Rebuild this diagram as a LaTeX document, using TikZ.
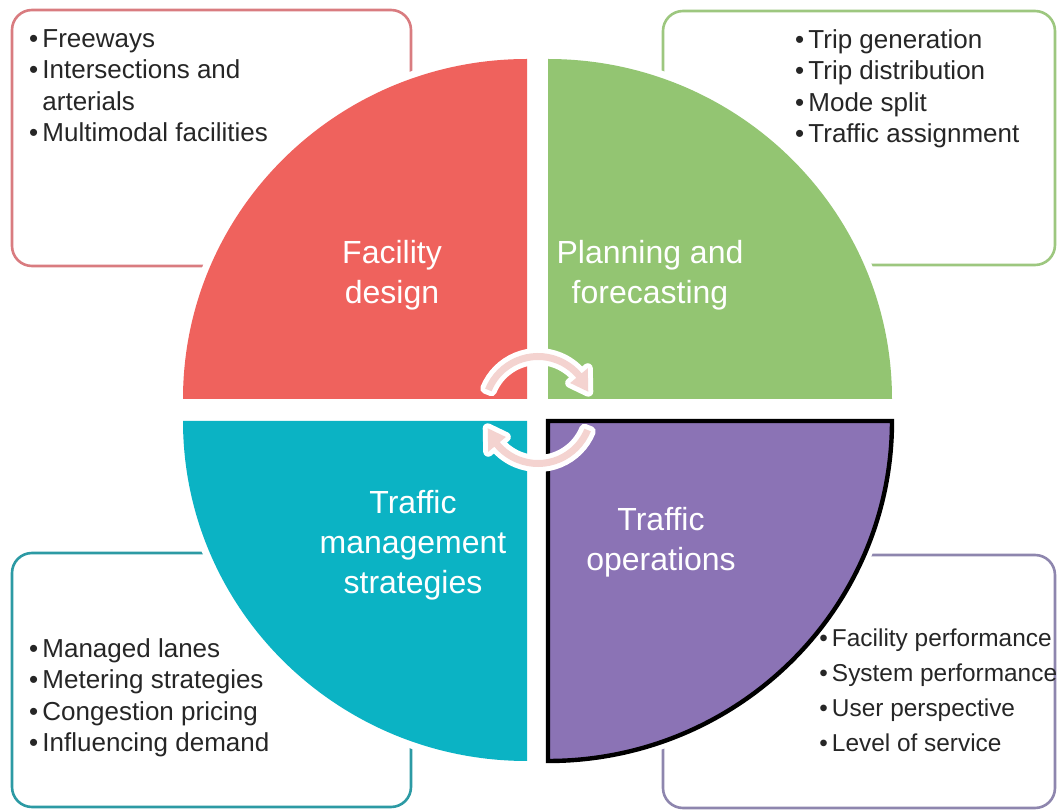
\documentclass[tikz,border=0pt]{standalone}
\usepackage{fontspec}
\setmainfont{Liberation Sans}
\usetikzlibrary{calc}
\definecolor{quadred}{RGB}{239,98,93}
\definecolor{quadgreen}{RGB}{147,197,114}
\definecolor{quadteal}{RGB}{11,179,196}
\definecolor{quadpurple}{RGB}{139,115,181}
\definecolor{boxred}{RGB}{217,124,128}
\definecolor{boxgreen}{RGB}{157,199,127}
\definecolor{boxteal}{RGB}{44,154,164}
\definecolor{boxpurple}{RGB}{142,134,174}
\definecolor{arrowpink}{RGB}{244,211,208}
\definecolor{listgray}{RGB}{38,38,38}
\begin{document}
\begin{tikzpicture}[x=0.5pt, y=-0.5pt,
  listbox/.style={rounded corners=10pt, line width=1.3pt, fill=white},
  quadrant/.style={preaction={draw=white, line width=7pt}},
  bullets/.style={inner sep=0pt, anchor=north west, align=left, text=listgray, font=\fontsize{13}{15.75}\selectfont},
  label/.style={inner sep=0pt, align=center, text=white, font=\fontsize{16}{20}\selectfont},
  turn/.style={fill=arrowpink, preaction={draw=white, line width=5pt, line join=round}}]
  \useasboundingbox (0,0) rectangle (1057,812);
  \def\qrx{172pt}
  \def\qry{170pt}

  % Outer list boxes
  \draw[listbox, draw=boxred] (12,10) rectangle (411,266);
  \draw[listbox, draw=boxgreen] (663,11) rectangle (1055,265);
  \draw[listbox, draw=boxteal] (12,553) rectangle (411,807);
  \draw[listbox, draw=boxpurple] (663,555) rectangle (1055,808);

  % Four quadrants of the circle
  \path[quadrant, fill=quadred] (527,399) -- (183,399) arc[start angle=180, end angle=90, x radius=\qrx, y radius=\qry] -- cycle;
  \path[quadrant, fill=quadgreen] (548,399) -- (548,59) arc[start angle=90, end angle=0, x radius=\qrx, y radius=\qry] -- cycle;
  \path[quadrant, fill=quadteal] (527,421) -- (183,421) arc[start angle=180, end angle=270, x radius=\qrx, y radius=\qry] -- cycle;
  \path[quadrant, fill=quadpurple, draw=black, line width=2.2pt] (548,421) -- (892,421) arc[start angle=0, end angle=-90, x radius=\qrx, y radius=\qry] -- cycle;

  % Quadrant titles
  \node[label] (design) at (392,275) {Facility\\design};
  \node[label] (planning) at (650,275) {Planning and\\forecasting};
  \node[label] (management) at (413,545) {Traffic\\management\\strategies};
  \node[label] (operations) at (661,542) {Traffic\\operations};

  % Cycle arrows in the middle
  \coordinate (hub) at (538,410);
  \path[turn] ($(hub)+(158:28.5pt)$) arc[start angle=158, end angle=40, radius=28.5pt]
    -- ($(hub)+(40:32.5pt)$) -- ($(hub)+(20:26.75pt)$) -- ($(hub)+(40:21pt)$)
    -- ($(hub)+(40:25pt)$) arc[start angle=40, end angle=158, radius=25pt] -- cycle;
  \path[turn] ($(hub)+(-22:28.5pt)$) arc[start angle=-22, end angle=-140, radius=28.5pt]
    -- ($(hub)+(220:32.5pt)$) -- ($(hub)+(200:26.75pt)$) -- ($(hub)+(220:21pt)$)
    -- ($(hub)+(220:25pt)$) arc[start angle=-140, end angle=-22, radius=25pt] -- cycle;

  % Lists
  \node[bullets] (designlist) at (28.6,29) {\textbullet\,Freeways\\\textbullet\,Intersections and\\\phantom{\textbullet\,}arterials\\\textbullet\,Multimodal facilities};
  \node[bullets] (planninglist) at (794.6,29) {\textbullet\,Trip generation\\\textbullet\,Trip distribution\\\textbullet\,Mode split\\\textbullet\,Traffic assignment};
  \node[bullets] (managementlist) at (28.6,638) {\textbullet\,Managed lanes\\\textbullet\,Metering strategies\\\textbullet\,Congestion pricing\\\textbullet\,Influencing demand};
  \node[bullets, font=\fontsize{12.2}{17.5}\selectfont] (operationslist) at (819,628) {\textbullet\,Facility performance\\\textbullet\,System performance\\\textbullet\,User perspective\\\textbullet\,Level of service};
\end{tikzpicture}
\end{document}
